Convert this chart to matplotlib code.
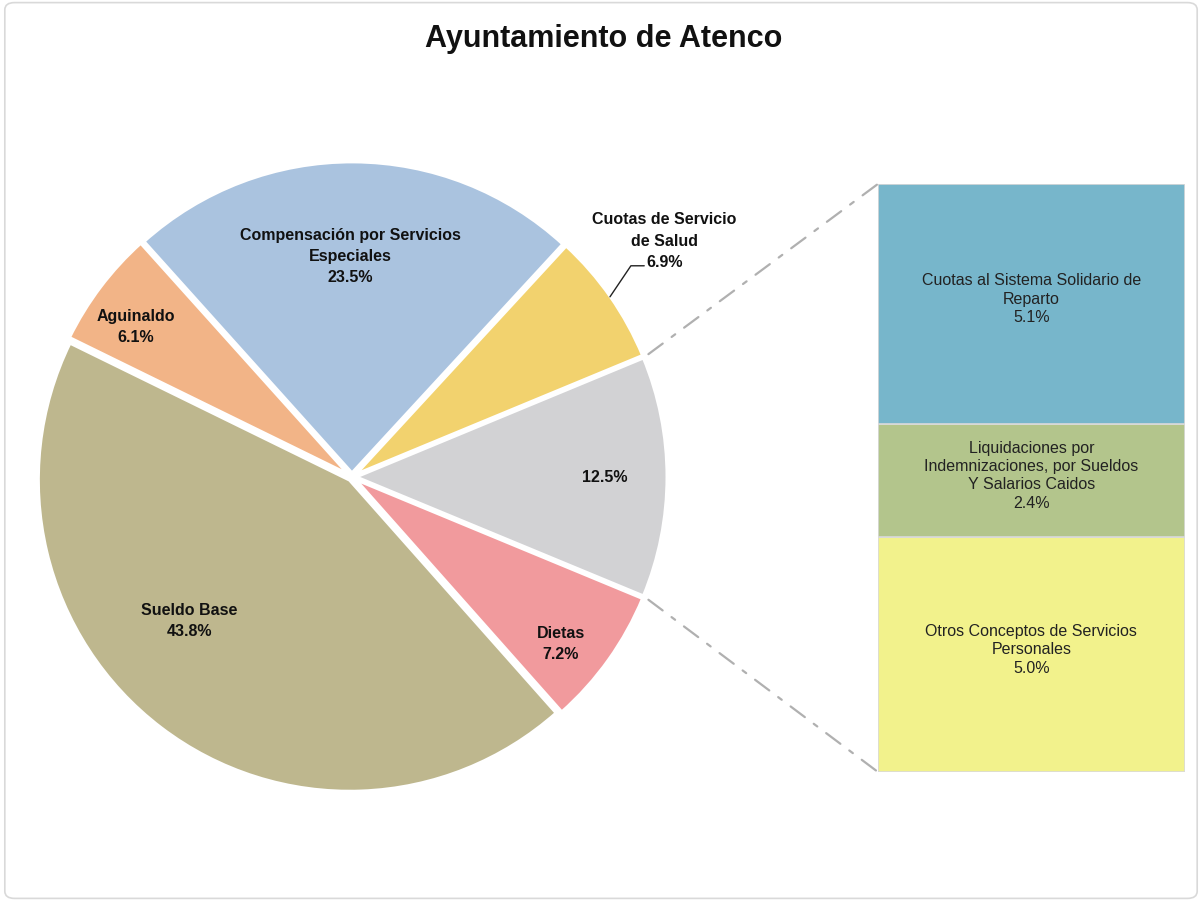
import matplotlib.pyplot as plt
import numpy as np
from matplotlib.patches import ConnectionPatch, FancyBboxPatch

# pie slices (counter-clockwise, starting with the grouped "other" slice)
pie_labels = ["", "Cuotas de Servicio\nde Salud", "Compensación por Servicios\nEspeciales",
              "Aguinaldo", "Sueldo Base", "Dietas"]
pie_values = [12.5, 6.9, 23.5, 6.1, 43.8, 7.2]
pie_colors = ["#D2D2D4", "#F2D26E", "#AAC3DF", "#F2B487", "#BEB78E", "#F19A9D"]

# stacked bar, bottom to top
bar_labels = ["Otros Conceptos de Servicios\nPersonales",
              "Liquidaciones por\nIndemnizaciones, por Sueldos\nY Salarios Caidos",
              "Cuotas al Sistema Solidario de\nReparto"]
bar_values = [5.0, 2.4, 5.1]
bar_colors = ["#F2F28C", "#B3C58C", "#77B6CB"]

bold_font = ["Liberation Sans Narrow", "Liberation Sans", "DejaVu Sans"]
reg_font = ["Liberation Sans", "DejaVu Sans"]

fig = plt.figure(figsize=(12.02, 9.03), dpi=100)
fig.patches.append(FancyBboxPatch((0.004, 0.004), 0.992, 0.992,
                                  boxstyle="round,pad=0,rounding_size=0.008",
                                  transform=fig.transFigure, fc="white",
                                  ec="#D9D9D9", lw=1.2, zorder=-1))

fig.text(0.502, 0.957, "Ayuntamiento de Atenco", ha="center", va="center",
         fontsize=22, fontweight="bold", family=reg_font, color="#111111")

# pie
ax = fig.add_axes([0.0349, 0.1274, 0.5158, 0.6866])
start = -pie_values[0] / 100 * 360 / 2
wedges, _ = ax.pie(pie_values, colors=pie_colors, startangle=start, counterclock=True,
                   explode=[0.012] * len(pie_values), radius=1.0,
                   wedgeprops=dict(edgecolor="white", linewidth=2.5))
ax.set_xlim(-0.995, 0.995)
ax.set_ylim(-0.995, 0.995)
ax.set_aspect("equal")
ax.axis("off")

label_pos = [(0.813, 0.003), (1.003, 0.76), (-0.006, 0.71),
             (-0.694, 0.484), (-0.523, -0.458), (0.671, -0.532)]
for i, (lab, v) in enumerate(zip(pie_labels, pie_values)):
    txt = f"{v:.1f}%" if lab == "" else f"{lab}\n{v:.1f}%"
    if i == 1:
        ang = np.deg2rad((wedges[i].theta1 + wedges[i].theta2) / 2)
        ax.annotate(txt, xy=(np.cos(ang) * 1.01, np.sin(ang) * 1.01), xytext=label_pos[i],
                    ha="center", va="center", fontsize=11.5, fontweight="bold",
                    family=bold_font, color="#111111", linespacing=1.55,
                    arrowprops=dict(arrowstyle="-", color="#222222", lw=1,
                                    relpos=(0.36, 0.06), shrinkA=0, shrinkB=0,
                                    patchA=None,
                                    connectionstyle="angle,angleA=0,angleB=56,rad=0"))
    else:
        ax.text(*label_pos[i], txt, ha="center", va="center", fontsize=11.5,
                fontweight="bold", family=bold_font, color="#111111", linespacing=1.5)

# bar
bx = fig.add_axes([0.7304, 0.144, 0.2554, 0.6512])
bottom = 0.0
mids = []
for v, c in zip(bar_values, bar_colors):
    bx.bar([0], [v], bottom=bottom, width=1.0, color=c, edgecolor="#DADADA", linewidth=1.2)
    mids.append(bottom + v / 2)
    bottom += v
for lab, v, m in zip(bar_labels, bar_values, mids):
    bx.annotate(f"{lab}\n{v:.1f}%", (0, m), xytext=(0, 4), textcoords="offset points",
                ha="center", va="center", fontsize=11.5,
                family=reg_font, color="#222222", linespacing=1.28)
bx.set_xlim(-0.5, 0.5)
bx.set_ylim(0, bottom)
bx.axis("off")

# connectors from the grouped slice to the bar
t1 = np.deg2rad(wedges[0].theta2)
t0 = np.deg2rad(wedges[0].theta1)
for t, yb in [(t1, bottom), (t0, 0)]:
    con = ConnectionPatch(xyA=(np.cos(t) * 1.03, np.sin(t) * 1.03), coordsA=ax.transData,
                          xyB=(-0.5, yb), coordsB=bx.transData,
                          color="#B0B0B0", lw=1.6, linestyle=(0, (8, 5, 2, 5)))
    fig.add_artist(con)

fig.savefig("out.png", dpi=100)
